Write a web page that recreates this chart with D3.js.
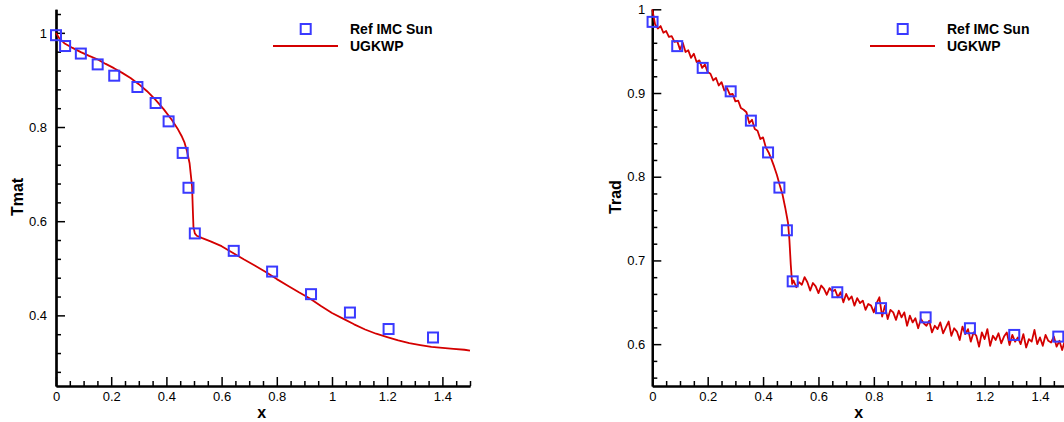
<!DOCTYPE html>
<html>
<head>
<meta charset="utf-8">
<script src="https://cdn.jsdelivr.net/npm/d3@7"></script>
<style>
    html, body { margin: 0; padding: 0; background: #fff; }
    svg { display: block; font-family: 'Liberation Sans', Arial, Helvetica, sans-serif; }
</style>
</head>
<body>
<div id="chart"></div>
<script>
const width = 1064;
const height = 422;

// Ref IMC Sun, material temperature
const tmatRefX = [0, 0.033, 0.09, 0.151, 0.211, 0.295, 0.361, 0.408, 0.459, 0.48, 0.503, 0.644, 0.783, 0.924, 1.065, 1.205, 1.366];
const tmatRefY = [0.995, 0.972, 0.956, 0.933, 0.909, 0.885, 0.851, 0.812, 0.745, 0.671, 0.574, 0.537, 0.493, 0.445, 0.406, 0.371, 0.353];

// UGKWP, material temperature
const tmatX = [0, 0.01, 0.03, 0.06, 0.09, 0.12, 0.15, 0.18, 0.21, 0.24, 0.27, 0.3, 0.33, 0.36, 0.39, 0.42, 0.44, 0.455,
    0.465, 0.475, 0.484, 0.49, 0.493, 0.496, 0.498, 0.503, 0.51, 0.53, 0.56, 0.6, 0.64, 0.68, 0.72, 0.76, 0.8, 0.84, 0.88,
    0.92, 0.96, 1, 1.04, 1.08, 1.12, 1.16, 1.2, 1.24, 1.28, 1.32, 1.36, 1.4, 1.44, 1.48, 1.5];
const tmatY = [1, 0.99, 0.978, 0.968, 0.959, 0.951, 0.944, 0.934, 0.925, 0.915, 0.904, 0.891, 0.876, 0.858, 0.838, 0.815, 0.797, 0.781,
    0.768, 0.748, 0.723, 0.69, 0.673, 0.62, 0.588, 0.574, 0.569, 0.564, 0.557, 0.547, 0.533, 0.519, 0.506, 0.492, 0.477, 0.463, 0.449,
    0.436, 0.42, 0.405, 0.393, 0.381, 0.37, 0.361, 0.354, 0.347, 0.341, 0.337, 0.333, 0.331, 0.329, 0.327, 0.325];

// Ref IMC Sun, radiation temperature
const tradRefX = [0.001, 0.09, 0.182, 0.283, 0.356, 0.418, 0.459, 0.486, 0.507, 0.668, 0.826, 0.987, 1.147, 1.307, 1.466];
const tradRefY = [0.985, 0.956, 0.93, 0.902, 0.867, 0.829, 0.787, 0.736, 0.675, 0.662, 0.643, 0.632, 0.619, 0.611, 0.609];

// UGKWP, radiation temperature
const tradX = [0, 0.01, 0.02, 0.03, 0.04, 0.05, 0.06, 0.07, 0.08, 0.09, 0.1, 0.11, 0.12, 0.13, 0.14, 0.15, 0.16, 0.17, 0.18, 0.19,
    0.2, 0.21, 0.22, 0.23, 0.24, 0.25, 0.26, 0.27, 0.28, 0.29, 0.3, 0.31, 0.32, 0.33, 0.34, 0.35, 0.36, 0.37, 0.38, 0.39,
    0.4, 0.41, 0.42, 0.43, 0.44, 0.45, 0.46, 0.47, 0.48, 0.49, 0.495, 0.5, 0.505, 0.51, 0.52, 0.53, 0.54, 0.55, 0.56, 0.57, 0.58, 0.59,
    0.6, 0.61, 0.62, 0.63, 0.64, 0.65, 0.66, 0.67, 0.68, 0.69, 0.7, 0.71, 0.72, 0.73, 0.74, 0.75, 0.76, 0.77, 0.78, 0.79,
    0.8, 0.81, 0.82, 0.83, 0.84, 0.85, 0.86, 0.87, 0.88, 0.89, 0.9, 0.91, 0.92, 0.93, 0.94, 0.95, 0.96, 0.97, 0.98, 0.99,
    1, 1.01, 1.02, 1.03, 1.04, 1.05, 1.06, 1.07, 1.08, 1.09, 1.1, 1.11, 1.12, 1.13, 1.14, 1.15, 1.16, 1.17, 1.18, 1.19,
    1.2, 1.21, 1.22, 1.23, 1.24, 1.25, 1.26, 1.27, 1.28, 1.29, 1.3, 1.31, 1.32, 1.33, 1.34, 1.35, 1.36, 1.37, 1.38, 1.39,
    1.4, 1.41, 1.42, 1.43, 1.44, 1.45, 1.46, 1.47, 1.48, 1.49, 1.5];
const tradY = [1, 0.982, 0.977, 0.98, 0.972, 0.974, 0.967, 0.968, 0.961, 0.962, 0.952, 0.96, 0.949, 0.951, 0.942, 0.947, 0.937, 0.939, 0.93, 0.934,
    0.925, 0.923, 0.915, 0.918, 0.909, 0.913, 0.903, 0.906, 0.898, 0.899, 0.89, 0.891, 0.882, 0.88, 0.877, 0.864, 0.868, 0.857, 0.855, 0.845,
    0.847, 0.835, 0.829, 0.821, 0.812, 0.802, 0.79, 0.779, 0.763, 0.745, 0.725, 0.695, 0.672, 0.676, 0.668, 0.674, 0.671, 0.68, 0.674, 0.664, 0.673, 0.669,
    0.661, 0.67, 0.666, 0.659, 0.667, 0.663, 0.665, 0.656, 0.662, 0.65, 0.66, 0.653, 0.657, 0.646, 0.655, 0.649, 0.652, 0.641, 0.648, 0.646,
    0.638, 0.649, 0.656, 0.633, 0.646, 0.63, 0.641, 0.638, 0.629, 0.64, 0.632, 0.638, 0.622, 0.634, 0.626, 0.631, 0.619, 0.63, 0.625, 0.622,
    0.628, 0.614, 0.622, 0.618, 0.626, 0.613, 0.62, 0.627, 0.61, 0.619, 0.615, 0.605, 0.621, 0.612, 0.618, 0.603, 0.614, 0.61, 0.597, 0.614,
    0.606, 0.618, 0.598, 0.61, 0.605, 0.613, 0.601, 0.609, 0.614, 0.599, 0.611, 0.603, 0.608, 0.6, 0.612, 0.596, 0.606, 0.603, 0.617, 0.6,
    0.608, 0.598, 0.611, 0.604, 0.602, 0.609, 0.597, 0.604, 0.593, 0.605, 0.588];

const xMajor = [0, 0.2, 0.4, 0.6, 0.8, 1, 1.2, 1.4];
const xTickLabels = ['0', '0.2', '0.4', '0.6', '0.8', '1', '1.2', '1.4'];
const tmatMajor = [0.4, 0.6, 0.8, 1];
const tmatTickLabels = ['0.4', '0.6', '0.8', '1'];
const tradMajor = [0.6, 0.7, 0.8, 0.9, 1];
const tradTickLabels = ['0.6', '0.7', '0.8', '0.9', '1'];
const legendLabels = ['Ref IMC Sun', 'UGKWP'];

const lineColor = '#d40000';
const markColor = '#3a3aff';

let svg = d3.select('#chart')
    .append('svg')
    .attr('width', width)
    .attr('height', height);

drawPanel({
    left: 56, right: 470, top: 9.3, bottom: 386,
    yDomain: [0.25, 1.05],
    yMajor: tmatMajor, yLabels: tmatTickLabels, yMinorStep: 0.04,
    yTitle: 'Tmat', yTitleX: 23, yPad: 9,
    refX: tmatRefX, refY: tmatRefY, lineX: tmatX, lineY: tmatY,
    legendX: 273
});

drawPanel({
    left: 652.3, right: 1067.7, top: 9.3, bottom: 386,
    yDomain: [0.55, 1.0],
    yMajor: tradMajor, yLabels: tradTickLabels, yMinorStep: 0.02,
    yTitle: 'Trad', yTitleX: 621, yPad: 7,
    refX: tradRefX, refY: tradRefY, lineX: tradX, lineY: tradY,
    legendX: 870
});

function drawPanel(p) {
    let x = d3.scaleLinear().domain([0, 1.5]).range([p.left, p.right]);
    let y = d3.scaleLinear().domain(p.yDomain).range([p.bottom, p.top]);

    let g = svg.append('g');

    // minor ticks
    let xMinor = d3.range(0, 1.5001, 0.05).filter(v => xMajor.every(m => Math.abs(m - v) > 1e-6));
    let yMinor = d3.range(Math.ceil(p.yDomain[0] / p.yMinorStep - 1e-6) * p.yMinorStep, p.yDomain[1] + 1e-6, p.yMinorStep)
        .filter(v => p.yMajor.every(m => Math.abs(m - v) > 1e-6));

    let axisX = d3.axisBottom(x)
        .tickValues(xMajor)
        .tickFormat((d, i) => xTickLabels[i])
        .tickSizeInner(-9)
        .tickSizeOuter(0)
        .tickPadding(6);
    let axisXMinor = d3.axisBottom(x)
        .tickValues(xMinor)
        .tickFormat('')
        .tickSizeInner(-5)
        .tickSizeOuter(0);
    let axisY = d3.axisLeft(y)
        .tickValues(p.yMajor)
        .tickFormat((d, i) => p.yLabels[i])
        .tickSizeInner(-9)
        .tickSizeOuter(0)
        .tickPadding(p.yPad);
    let axisYMinor = d3.axisLeft(y)
        .tickValues(yMinor)
        .tickFormat('')
        .tickSizeInner(-5)
        .tickSizeOuter(0);

    [
        [axisXMinor, 'translate(0,' + p.bottom + ')'],
        [axisX, 'translate(0,' + p.bottom + ')'],
        [axisYMinor, 'translate(' + p.left + ',0)'],
        [axisY, 'translate(' + p.left + ',0)']
    ].forEach(([fn, tr]) => {
        let a = g.append('g')
            .attr('transform', tr)
            .call(fn);
        a.select('.domain').attr('stroke', '#000').attr('stroke-width', 2.2);
        a.selectAll('.tick line').attr('stroke', '#000').attr('stroke-width', 1.5);
        a.selectAll('.tick text')
            .attr('fill', '#000')
            .style('font-size', '13px')
            .style('font-family', "'Liberation Sans', Arial, sans-serif");
    });

    // axis titles
    g.append('text')
        .attr('x', x(0.745))
        .attr('y', 418)
        .attr('text-anchor', 'middle')
        .style('font-size', '16px')
        .style('font-weight', 'bold')
        .text('x');
    g.append('text')
        .attr('transform', 'translate(' + p.yTitleX + ',' + 197 + ') rotate(-90)')
        .attr('text-anchor', 'middle')
        .style('font-size', '16px')
        .style('font-weight', 'bold')
        .text(p.yTitle);

    // UGKWP line
    let lineData = p.lineX.map((v, i) => [v, p.lineY[i]]);
    let line = d3.line()
        .x(d => x(d[0]))
        .y(d => y(d[1]));
    g.append('path')
        .attr('d', line(lineData))
        .attr('fill', 'none')
        .attr('stroke', lineColor)
        .attr('stroke-width', 1.8)
        .attr('stroke-linejoin', 'round');

    // reference squares
    let refData = p.refX.map((v, i) => [v, p.refY[i]]);
    g.append('g')
        .selectAll('rect')
        .data(refData)
        .enter()
        .append('rect')
        .attr('x', d => x(d[0]) - 5)
        .attr('y', d => y(d[1]) - 5)
        .attr('width', 10)
        .attr('height', 10)
        .attr('fill', 'none')
        .attr('stroke', markColor)
        .attr('stroke-width', 2);

    // legend
    let lg = g.append('g')
        .attr('transform', 'translate(' + p.legendX + ',0)');
    lg.append('rect')
        .attr('x', 27.7)
        .attr('y', 24)
        .attr('width', 10)
        .attr('height', 10)
        .attr('fill', 'none')
        .attr('stroke', markColor)
        .attr('stroke-width', 2);
    lg.append('line')
        .attr('x1', 0)
        .attr('x2', 65)
        .attr('y1', 46)
        .attr('y2', 46)
        .attr('stroke', lineColor)
        .attr('stroke-width', 1.8);
    lg.selectAll('text')
        .data(legendLabels)
        .enter()
        .append('text')
        .attr('x', 77)
        .attr('y', (d, i) => 34 + i * 16.5)
        .style('font-size', '14px')
        .style('font-weight', 'bold')
        .text(d => d);
}
</script>
</body>
</html>
